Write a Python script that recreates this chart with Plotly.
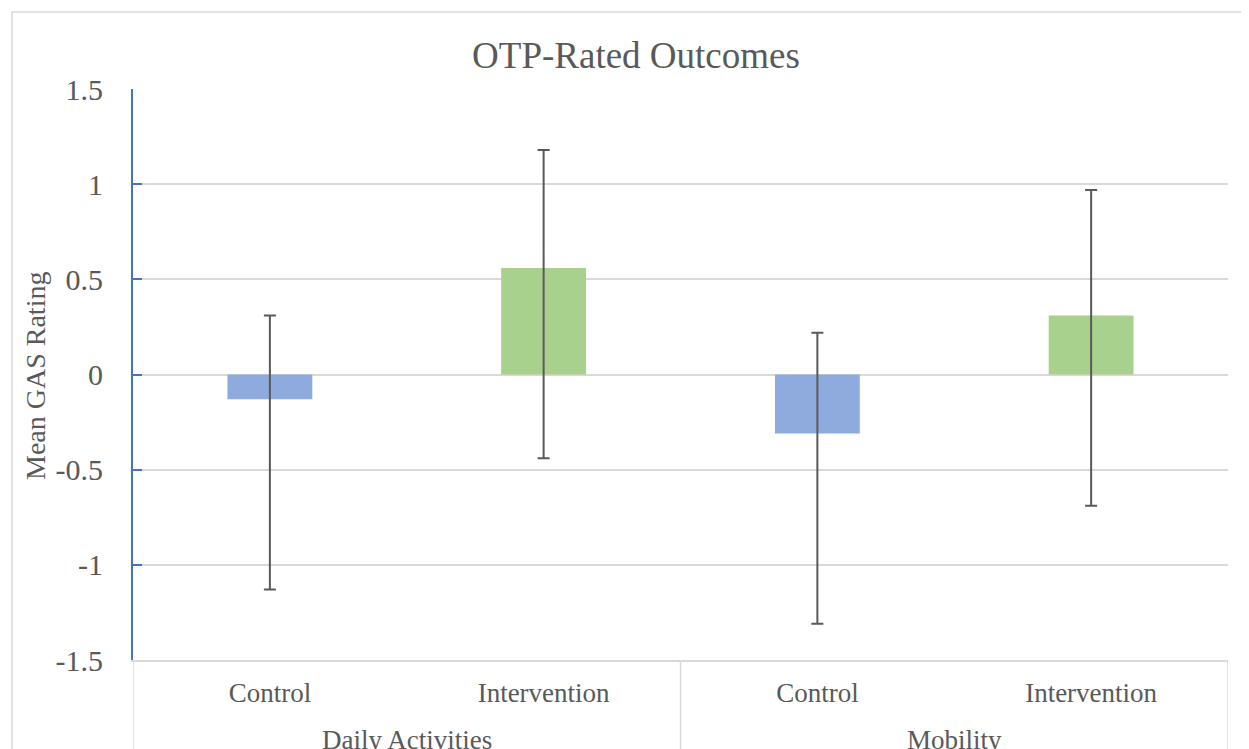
import plotly.graph_objects as go

groups = ["Daily Activities", "Mobility"]
conditions = ["Control", "Intervention", "Control", "Intervention"]
means = [-0.13, 0.56, -0.31, 0.31]
err_plus = [0.44, 0.62, 0.53, 0.66]
err_minus = [1.0, 1.0, 1.0, 1.0]
bar_colors = ["#8FAADC", "#A9D18E", "#8FAADC", "#A9D18E"]
y_ticks = [-1.5, -1, -0.5, 0, 0.5, 1, 1.5]
y_ticktext = ["-1.5", "-1", "-0.5", "0", "0.5", "1", "1.5"]

FONT = "Liberation Serif, Times New Roman, serif"
TXT = "#595959"
GRID = "#D9D9D9"

# figure is shifted 8px by page body margin; compensate
W, H = 1241, 741
L, T, R, B = 125, 81, 21, 89
PW, PH = W - L - R, H - T - B

xpos = list(range(len(conditions)))

fig = go.Figure()
fig.add_trace(go.Bar(
    x=xpos,
    y=means,
    marker=dict(color=bar_colors, line=dict(width=0)),
    error_y=dict(type="data", symmetric=False, array=err_plus, arrayminus=err_minus,
                 color="#595959", thickness=2, width=6),
    showlegend=False,
))

fig.update_layout(
    width=W, height=H,
    margin=dict(l=L, r=R, t=T, b=B),
    paper_bgcolor="white", plot_bgcolor="white",
    bargap=0.69,
    font=dict(family=FONT, color=TXT),
    title=dict(text="OTP-Rated Outcomes", x=628 / W, xanchor="center", y=1 - 47 / H, yanchor="middle",
               font=dict(size=37, color=TXT, family=FONT)),
)
fig.update_yaxes(
    range=[-1.5, 1.5], tickvals=y_ticks, ticktext=y_ticktext,
    showgrid=True, gridcolor=GRID, gridwidth=1.5,
    zeroline=True, zerolinecolor=GRID, zerolinewidth=1.5,
    showline=True, linecolor="#4472C4", linewidth=2,
    ticks="inside", ticklen=9, tickcolor="#4472C4", tickwidth=2,
    ticklabelstandoff=22,
    tickfont=dict(size=30, color=TXT, family=FONT),
    automargin=False,
)
fig.update_xaxes(
    range=[-0.5, len(conditions) - 0.5],
    tickvals=xpos, ticktext=conditions,
    showline=True, linecolor=GRID, linewidth=1.5,
    showgrid=False, zeroline=False, ticks="",
    ticklabelstandoff=8,
    tickfont=dict(size=27, color=TXT, family=FONT),
    automargin=False,
)

fig.add_annotation(
    text="Mean GAS Rating", xref="paper", yref="paper",
    x=(27 - L) / PW, y=(PH + T - 368) / PH,
    textangle=-90, showarrow=False, xanchor="center", yanchor="middle",
    font=dict(size=28, color=TXT, family=FONT),
)

# group labels and dividers of the two-level category axis
for gi, g in enumerate(groups):
    fig.add_annotation(
        text=g, xref="x", yref="paper", x=2 * gi + 0.5, y=(T + PH - 732) / PH,
        showarrow=False, xanchor="center", yanchor="middle",
        font=dict(size=27, color=TXT, family=FONT),
    )
for xd in [-0.5, 1.5, 3.5]:
    fig.add_shape(type="line", xref="x", yref="paper", x0=xd, x1=xd, y0=0, y1=-0.4,
                  line=dict(color=GRID, width=1.5))

# chart outer border
fig.add_shape(type="rect", xref="paper", yref="paper",
              x0=(4 - L) / PW, x1=1.2, y0=-0.5, y1=(T + PH - 4) / PH,
              line=dict(color=GRID, width=1.5), fillcolor="rgba(0,0,0,0)", layer="below")

fig.write_html("out.html")
